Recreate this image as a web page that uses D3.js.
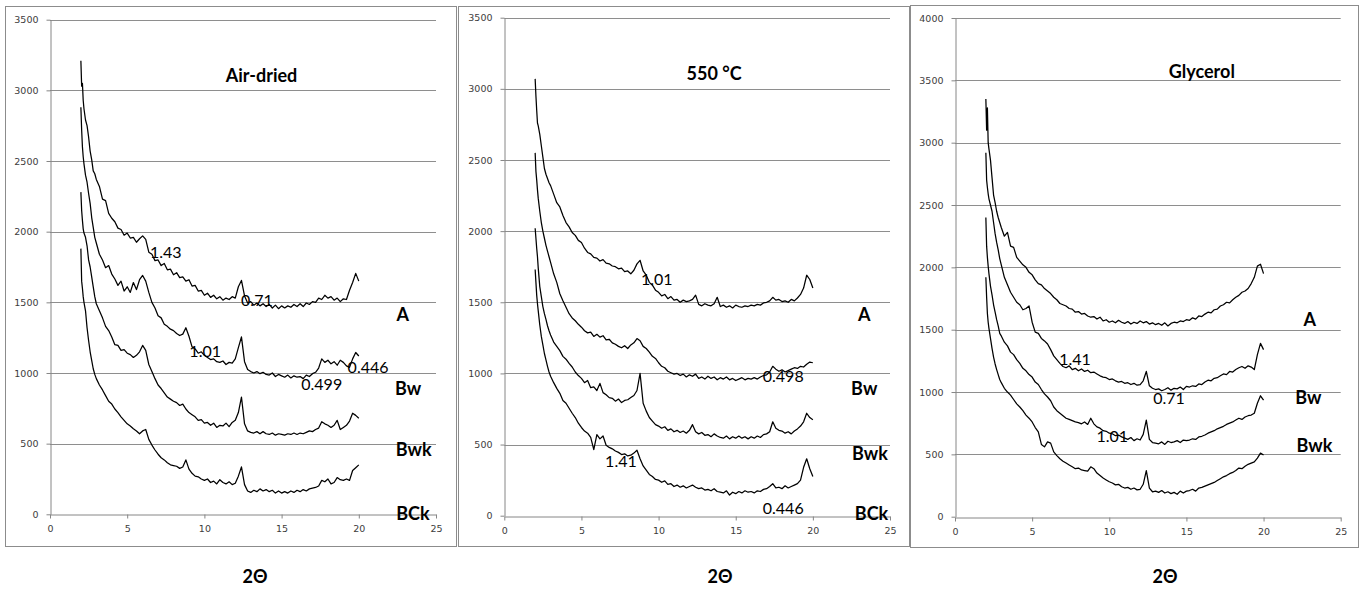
<!DOCTYPE html>
<html>
<head>
<meta charset="utf-8">
<script src="https://cdn.jsdelivr.net/npm/d3@7"></script>
<style>
  body { margin: 0; background: #fff; }
  svg { display: block; }
  .tick text { font-family: "DejaVu Sans", sans-serif; font-size: 9.5px; fill: #3c3c3c; }
  .label { font-family: Lato, "Noto Sans", sans-serif; fill: #000; }
</style>
</head>
<body>
<svg id="chart" width="1365" height="589"></svg>
<script>
// 2-theta sample positions (degrees), shared by every pattern
const twoTheta = [
  2.0, 2.05, 2.1, 2.15, 2.2, 2.3, 2.4, 2.5, 2.6, 2.7, 2.8, 2.9, 3.0,
  3.2, 3.4, 3.6, 3.8, 4.0, 4.2, 4.4, 4.6, 4.8, 5.0, 5.2, 5.4, 5.6, 5.8, 6.0,
  6.2, 6.4, 6.6, 6.8, 7.0, 7.2, 7.4, 7.6, 7.8, 8.0, 8.2, 8.4, 8.6, 8.8, 9.0,
  9.2, 9.4, 9.6, 9.8, 10.0, 10.2, 10.4, 10.6, 10.8, 11.0, 11.2, 11.4, 11.6, 11.8, 12.0,
  12.2, 12.4, 12.6, 12.8, 13.0, 13.2, 13.4, 13.6, 13.8, 14.0, 14.2, 14.4, 14.6, 14.8, 15.0,
  15.2, 15.4, 15.6, 15.8, 16.0, 16.2, 16.4, 16.6, 16.8, 17.0, 17.2, 17.4, 17.6, 17.8, 18.0,
  18.2, 18.4, 18.6, 18.8, 19.0, 19.2, 19.4, 19.6, 19.8, 20.0
];

const horizons = ["A", "Bw", "Bwk", "BCk"];
const xTicks = [0, 5, 10, 15, 20, 25];

// Air-dried
const airA = [
  3210, 3030, 3050, 2930, 2870, 2790, 2750, 2670, 2570, 2510, 2430, 2410, 2370,
  2320, 2230, 2220, 2130, 2095,  2070, 2025, 2015, 1975, 1990,  1955, 1960, 1925, 1950, 1970,
  1945, 1855, 1840, 1795, 1800,  1760, 1775, 1730, 1735, 1695,  1710, 1675, 1680, 1650, 1660,
  1615, 1620, 1580, 1585, 1550,  1565, 1535, 1550, 1525, 1540,  1515, 1530, 1520, 1540, 1530,
  1610, 1655, 1545, 1495, 1505,  1480, 1495, 1475, 1490, 1470,  1485, 1460, 1480, 1455, 1475,
  1460, 1475, 1465, 1485, 1470,  1490, 1470, 1495, 1485, 1505,  1500, 1530, 1520, 1550, 1530,
  1540, 1515, 1530, 1505, 1525,  1520, 1585, 1640, 1705, 1650
];
const airBw = [
  2880, 2720, 2600, 2530, 2480, 2400, 2350, 2270, 2200, 2100, 2030, 1960, 1920,
  1840, 1800, 1745, 1760, 1700,  1665, 1620, 1650, 1580, 1610,  1570, 1640, 1590, 1660, 1690,
  1650, 1570, 1500, 1460, 1405,  1390, 1345, 1330, 1310, 1300,  1280, 1265, 1275, 1320, 1260,
  1185, 1170, 1140, 1150, 1125,  1110, 1095, 1100, 1080, 1075,  1085, 1060, 1075, 1070, 1100,
  1180, 1255, 1080, 1025, 1010,  1000, 1010, 995, 1005, 990,  985, 1000, 975, 990, 980,
  970, 985, 965, 980, 970,  975, 960, 985, 975, 995,  1005, 1035, 1100, 1075, 1090,
  1065, 1080, 1055, 1090, 1075,  1050, 1040, 1100, 1145, 1120
];
const airBwk = [
  2280, 2150, 2080, 2020, 1990, 1960, 1900, 1800, 1750, 1680, 1610, 1540, 1490,
  1440, 1390, 1330, 1300, 1255,  1200, 1195, 1160, 1165, 1140,  1130, 1110, 1125, 1150, 1195,
  1160, 1060, 1010, 960, 915,  890, 860, 830, 815, 800,  790, 770, 780, 745, 720,
  705, 690, 665, 670, 645,  650, 630, 645, 615, 630,  625, 645, 620, 650, 665,
  720, 830, 640, 590, 580,  575, 585, 570, 585, 570,  565, 575, 560, 570, 565,
  560, 570, 565, 575, 565,  575, 570, 580, 590, 585,  600, 610, 655, 640, 630,
  615, 630, 665, 600, 615,  630, 660, 715, 700, 680
];
const airBCk = [
  1880, 1650, 1600, 1540, 1500, 1440, 1320, 1230, 1150, 1090, 1030, 990, 960,
  915, 880, 840, 800, 780,  745, 720, 690, 665, 640,  625, 605, 590, 570, 590,
  600, 530, 490, 455, 425,  400, 385, 365, 350, 345,  340, 325, 335, 385, 320,
  290, 270, 265, 250, 240,  250, 225, 235, 215, 245,  225, 215, 230, 210, 220,
  270, 335, 210, 165, 155,  170, 160, 180, 165, 175,  160, 170, 150, 165, 150,
  160, 150, 165, 155, 170,  160, 175, 165, 180, 185,  190, 200, 240, 230, 250,
  215, 225, 260, 245, 240,  250, 240, 310, 330, 350
];

// 550 °C
const hotA = [
  3070, 2950, 2850, 2760, 2740, 2680, 2600, 2520, 2440, 2400, 2370, 2340, 2320,
  2260, 2200, 2170, 2110, 2060,  2030, 1990, 1970, 1935, 1920,  1880, 1850, 1840, 1815, 1810,
  1790, 1800, 1775, 1770, 1755,  1750, 1735, 1740, 1715, 1720,  1700, 1725, 1770, 1795, 1720,
  1690, 1640, 1620, 1585, 1570,  1545, 1555, 1525, 1540, 1515,  1520, 1500, 1515, 1505, 1510,
  1520, 1550, 1485, 1475, 1490,  1480, 1475, 1490, 1535, 1470,  1480, 1465, 1475, 1460, 1480,
  1470, 1465, 1475, 1470, 1480,  1475, 1485, 1480, 1495, 1500,  1510, 1535, 1515, 1520, 1505,
  1510, 1500, 1520, 1510, 1530,  1555, 1600, 1690, 1660, 1600
];
const hotBw = [
  2550, 2420, 2360, 2290, 2230, 2140, 2060, 2000, 1950, 1900, 1860, 1820, 1780,
  1700, 1640, 1560, 1510, 1465,  1420, 1390, 1370, 1345, 1325,  1300, 1285, 1290, 1260, 1275,
  1255, 1265, 1235, 1240, 1215,  1205, 1190, 1180, 1195, 1175,  1200, 1215, 1245, 1230, 1190,
  1175, 1150, 1120, 1105, 1075,  1050, 1040, 1015, 1005, 995,  1000, 985, 995, 975, 990,
  980, 995, 965, 975, 960,  980, 965, 975, 955, 970,  960, 975, 955, 965, 950,
  960, 970, 955, 965, 960,  970, 960, 975, 985, 990,  1010, 1050, 1030, 1015, 1025,
  1010, 1020, 1030, 1040, 1035,  1050, 1045, 1065, 1080, 1075
];
const hotBwk = [
  2020, 1950, 1880, 1820, 1740, 1610, 1540, 1470, 1420, 1380, 1335, 1300, 1270,
  1220, 1190, 1160, 1120, 1100,  1070, 1045, 1010, 985, 965,  935, 950, 900, 905, 880,
  930, 865, 850, 830, 825,  805, 820, 795, 810, 815,  830, 845, 880, 1000, 790,
  735, 690, 665, 640, 630,  615, 625, 600, 610, 590,  600, 585, 595, 580, 600,
  640, 590, 575, 585, 565,  570, 555, 575, 560, 550,  545, 560, 540, 555, 545,
  560, 545, 555, 540, 555,  545, 560, 550, 570, 575,  590, 660, 615, 600, 595,
  580, 590, 575, 595, 610,  630, 660, 720, 690, 675
];
const hotBCk = [
  1730, 1640, 1550, 1490, 1440, 1340, 1260, 1200, 1140, 1095, 1050, 1010, 980,
  935, 895, 860, 810, 790,  755, 720, 690, 650, 620,  595, 580, 550, 465, 570,
  540, 560, 495, 480, 470,  455, 445, 430, 435, 420,  425, 440, 460, 400, 350,
  320, 290, 275, 255, 250,  235, 245, 220, 225, 205,  215, 200, 210, 195, 205,
  215, 200, 190, 195, 180,  185, 175, 190, 170, 165,  160, 175, 145, 165, 155,
  170, 160, 175, 165, 170,  160, 175, 170, 185, 190,  205, 225, 195, 200, 190,
  210, 195, 205, 215, 225,  250, 340, 400, 330, 275
];

// Glycerol
const glyA = [
  3350, 3100, 3280, 3000, 2950, 2860, 2720, 2580, 2520, 2450, 2400, 2360, 2320,
  2250, 2280, 2170, 2160, 2080,  2050, 2020, 2000, 1960, 1940,  1900, 1870, 1860, 1830, 1810,
  1790, 1760, 1740, 1710, 1700,  1690, 1670, 1665, 1640, 1645,  1625, 1630, 1610, 1600, 1605,
  1585, 1600, 1570, 1580, 1560,  1570, 1555, 1575, 1560, 1550,  1565, 1545, 1560, 1550, 1570,
  1555, 1565, 1545, 1555, 1540,  1550, 1535, 1555, 1530, 1550,  1560, 1555, 1570, 1565, 1580,
  1575, 1595, 1585, 1610, 1605,  1625, 1640, 1635, 1660, 1665,  1690, 1700, 1720, 1715, 1740,
  1760, 1775, 1800, 1810, 1830,  1870, 1920, 2010, 2025, 1950
];
const glyBw = [
  2920, 2700, 2640, 2590, 2550, 2500, 2450, 2360, 2270, 2200, 2140, 2070, 2020,
  1920, 1860, 1800, 1760, 1720,  1700, 1660, 1670, 1690, 1560,  1480, 1470, 1430, 1410, 1385,
  1340, 1290, 1260, 1230, 1205,  1195, 1210, 1180, 1190, 1170,  1185, 1165, 1175, 1155, 1160,
  1145, 1130, 1120, 1115, 1100,  1105, 1090, 1080, 1085, 1070,  1075, 1060, 1070, 1055, 1060,
  1090, 1165, 1050, 1030, 1020,  1025, 1010, 1020, 1035, 1015,  1030, 1025, 1040, 1020, 1045,
  1040, 1050, 1045, 1065, 1060,  1080, 1095, 1090, 1110, 1115,  1130, 1145, 1140, 1165, 1160,
  1180, 1195, 1205, 1190, 1210,  1200, 1180, 1300, 1390, 1340
];
const glyBwk = [
  2400, 2170, 2080, 2010, 1950, 1850, 1780, 1700, 1640, 1580, 1530, 1470, 1450,
  1400, 1370, 1320, 1300, 1260,  1230, 1190, 1170, 1140, 1120,  1080, 1060, 1020, 985, 960,
  930, 880, 850, 830, 810,  790, 780, 770, 760, 755,  745, 760, 740, 790, 745,
  720, 710, 690, 685, 670,  665, 650, 655, 640, 630,  620, 635, 610, 625, 615,
  660, 775, 620, 595, 590,  585, 600, 580, 605, 595,  600, 610, 595, 615, 610,
  615, 625, 620, 640, 645,  655, 670, 680, 690, 705,  715, 725, 740, 750, 760,
  775, 790, 780, 800, 810,  815, 830, 910, 970, 935
];
const glyBCk = [
  1920, 1760, 1630, 1560, 1510, 1430, 1350, 1280, 1225, 1180, 1140, 1100, 1075,
  1030, 1000, 975, 940, 905,  880, 850, 815, 790, 760,  715, 680, 580, 560, 600,
  590, 520, 490, 465, 445,  430, 415, 400, 385, 390,  375, 370, 365, 400, 385,
  350, 330, 310, 295, 280,  270, 255, 260, 240, 230,  235, 220, 230, 215, 220,
  260, 370, 230, 200, 205,  195, 210, 190, 200, 185,  195, 180, 205, 190, 205,
  210, 220, 205, 230, 235,  245, 255, 265, 275, 290,  305, 320, 330, 345, 355,
  370, 390, 385, 405, 420,  430, 440, 470, 510, 495
];

// d-spacing notes (nm) written next to peaks
const airNotes = ["1.43", "0.71", "1.01", "0.499", "0.446"];
const hotNotes = ["1.01", "0.498", "1.41", "0.446"];
const glyNotes = ["1.41", "0.71", "1.01"];

// layout of each chart, in pixels (frame, plot) and data units (label anchors)
const panels = [
  {
    title: "Air-dried", titleAt: [13.7, 3110],
    frame: [5, 6, 451, 540],
    plot: { left: 50, right: 436, top: 19.7, bottom: 514.3 },
    yMax: 3500, yStep: 500,
    series: [airA, airBw, airBwk, airBCk],
    horizonAt: [[22.85, 1417], [23.2, 896], [23.55, 460], [23.5, 11]],
    notes: airNotes,
    noteAt: [[7.5, 1857], [13.4, 1518], [10.05, 1157], [17.6, 929], [20.6, 1043]],
    xLabel: 255
  },
  {
    title: "550 \u00b0C", titleAt: [13.6, 3110],
    frame: [458, 6, 451, 540],
    plot: { left: 504.3, right: 890, top: 17.7, bottom: 515.7 },
    yMax: 3500, yStep: 500,
    series: [hotA, hotBw, hotBwk, hotBCk],
    horizonAt: [[23.33, 1417], [23.33, 900], [23.7, 443], [23.8, 21]],
    notes: hotNotes,
    noteAt: [[9.88, 1668], [18.08, 982], [7.56, 387], [18.08, 59]],
    xLabel: 720
  },
  {
    title: "Glycerol", titleAt: [16.0, 3577],
    frame: [910, 5, 448, 542],
    plot: { left: 955, right: 1340.7, top: 18, bottom: 516.7 },
    yMax: 4000, yStep: 500,
    series: [glyA, glyBw, glyBwk, glyBCk],
    horizonAt: [[23.0, 1583], [22.9, 958], [23.29, 575]],
    notes: glyNotes,
    noteAt: [[7.78, 1270], [13.87, 958], [10.19, 650]],
    xLabel: 1165
  }
];

const svg = d3.select("#chart");

panels.forEach((p) => {
  const g = svg.append("g");
  const [fx, fy, fw, fh] = p.frame;
  g.append("rect")
    .attr("x", fx + 0.5).attr("y", fy + 0.5)
    .attr("width", fw).attr("height", fh)
    .attr("fill", "none").attr("stroke", "#8c8c8c");

  const x = d3.scaleLinear().domain([0, 25]).range([p.plot.left, p.plot.right]);
  const y = d3.scaleLinear().domain([0, p.yMax]).range([p.plot.bottom, p.plot.top]);
  const yTicks = d3.range(0, p.yMax + 1, p.yStep);

  // horizontal gridlines
  g.append("g")
    .selectAll("line")
    .data(yTicks.filter((t) => t > 0))
    .join("line")
    .attr("x1", x(0)).attr("x2", x(25))
    .attr("y1", (d) => Math.round(y(d)) + 0.5)
    .attr("y2", (d) => Math.round(y(d)) + 0.5)
    .attr("stroke", "#8e8e8e");

  const yAxis = g.append("g")
    .attr("transform", `translate(${Math.round(x(0)) + 0.5},0)`)
    .call(d3.axisLeft(y).tickValues(yTicks).tickFormat(d3.format("d")).tickSize(4).tickSizeOuter(0).tickPadding(8));
  const xAxis = g.append("g")
    .attr("transform", `translate(0,${Math.round(y(0)) + 0.5})`)
    .call(d3.axisBottom(x).tickValues(xTicks).tickSize(4).tickSizeOuter(0).tickPadding(7));
  [yAxis, xAxis].forEach((a) => {
    a.select(".domain").attr("stroke", "#868686");
    a.selectAll(".tick line").attr("stroke", "#868686");
  });

  const line = d3.line()
    .x((d, i) => x(twoTheta[i]))
    .y((d) => y(d));

  g.append("g")
    .selectAll("path")
    .data(p.series)
    .join("path")
    .attr("d", line)
    .attr("fill", "none")
    .attr("stroke", "#000")
    .attr("stroke-width", 1.25)
    .attr("stroke-linejoin", "round");

  g.append("g")
    .selectAll("text")
    .data(p.notes)
    .join("text")
    .attr("class", "label")
    .attr("x", (d, i) => x(p.noteAt[i][0]))
    .attr("y", (d, i) => y(p.noteAt[i][1]))
    .attr("text-anchor", "middle")
    .attr("dominant-baseline", "central")
    .style("font-size", "16px")
    .text((d) => d);

  g.append("g")
    .selectAll("text")
    .data(p.horizonAt)
    .join("text")
    .attr("class", "label")
    .attr("x", (d) => x(d[0]))
    .attr("y", (d) => y(d[1]))
    .attr("text-anchor", "middle")
    .attr("dominant-baseline", "central")
    .style("font-size", "18px")
    .style("font-weight", "bold")
    .text((d, i) => horizons[i]);

  g.append("text")
    .attr("class", "label")
    .attr("x", x(p.titleAt[0]))
    .attr("y", y(p.titleAt[1]))
    .attr("text-anchor", "middle")
    .attr("dominant-baseline", "central")
    .style("font-size", "18px")
    .style("font-weight", "bold")
    .text(p.title);

  svg.append("text")
    .attr("class", "label")
    .attr("x", p.xLabel)
    .attr("y", 576)
    .attr("text-anchor", "middle")
    .attr("dominant-baseline", "central")
    .style("font-size", "18px")
    .style("font-weight", "bold")
    .text("2\u0398");
});
</script>
</body>
</html>
